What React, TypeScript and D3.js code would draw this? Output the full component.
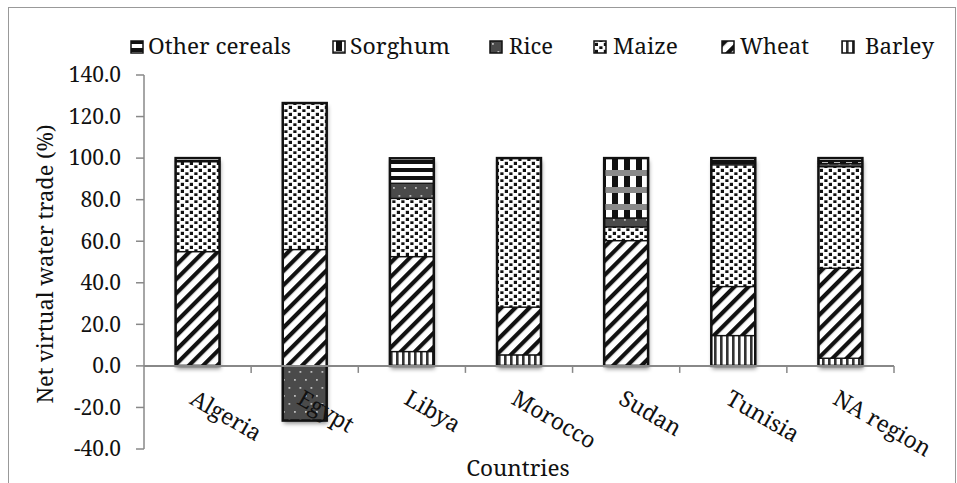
import React from "react";
import * as d3 from "d3";

const countries = ["Algeria", "Egypt", "Libya", "Morocco", "Sudan", "Tunisia", "NA region"];
const barley = [0, 0, 6.9, 5.3, 0, 14.6, 3.7];
const wheat = [55, 56, 45.7, 23, 60.3, 23.6, 43.3];
const maize = [43.3, 70.5, 28, 71.7, 6.6, 58.6, 48.9];
const rice = [0, -26.3, 7.3, 0, 4.3, 0, 1.5];
const sorghum = [0, 0, 0, 0, 28.8, 0, 1.0];
const otherCereals = [1.7, 0, 12, 0, 0, 3.2, 1.6];
const yTicks = [-40, -20, 0, 20, 40, 60, 80, 100, 120, 140];

const keys = ["Barley", "Wheat", "Maize", "Rice", "Sorghum", "Other cereals"];
const seriesArrays: Record<string, number[]> = {
  Barley: barley,
  Wheat: wheat,
  Maize: maize,
  Rice: rice,
  Sorghum: sorghum,
  "Other cereals": otherCereals,
};
const patternId: Record<string, string> = {
  Barley: "p-barley",
  Wheat: "p-wheat",
  Maize: "p-maize",
  Rice: "p-rice",
  Sorghum: "p-sorghum",
  "Other cereals": "p-other",
};
const legendOrder = ["Other cereals", "Sorghum", "Rice", "Maize", "Wheat", "Barley"];
const legendSquareX = [131, 333, 490, 594, 722, 842];
const legendTextX = [148, 350, 509, 613, 740, 865];
const legendTextW = [143, 100, 44, 65, 69, 69];

const FONT = "'Noto Serif', 'DejaVu Serif', serif";

export default function App() {
  const x = d3
    .scaleBand<string>()
    .domain(countries)
    .range([144, 894])
    .paddingInner(0.59)
    .paddingOuter(0.295);
  const y = d3.scaleLinear().domain([-40, 140]).range([449, 75]);

  const rows = countries.map((c, i) => {
    const r: any = { country: c };
    keys.forEach((k) => (r[k] = seriesArrays[k][i]));
    return r;
  });
  const stacked = d3
    .stack<any>()
    .keys(keys)
    .offset(d3.stackOffsetDiverging)(rows);

  const y0 = y(0);

  return (
    <svg
      width={957}
      height={483}
      style={{ position: "absolute", left: 0, top: 0, background: "#fff" }}
      fontFamily={FONT}
    >
      <defs>
        <pattern id="p-barley" width={6} height={6} patternUnits="userSpaceOnUse">
          <rect width={6} height={6} fill="#fff" />
          <rect x={0} width={2.6} height={6} fill="#333" />
        </pattern>
        <pattern
          id="p-wheat"
          width={10}
          height={10}
          patternUnits="userSpaceOnUse"
          patternTransform="rotate(45)"
        >
          <rect width={10} height={10} fill="#fff" />
          <rect x={0} width={4.2} height={10} fill="#111" />
        </pattern>
        <pattern id="p-maize" width={9} height={7} patternUnits="userSpaceOnUse">
          <rect width={9} height={7} fill="#fff" />
          <rect x={0.8} y={0.8} width={3.2} height={3.2} fill="#111" />
          <rect x={5.3} y={4.3} width={3.2} height={3.2} fill="#111" />
        </pattern>
        <pattern id="p-rice" width={11} height={16} patternUnits="userSpaceOnUse">
          <rect width={11} height={16} fill="#4a4a4a" />
          <rect x={2.5} y={3} width={1.8} height={1.8} fill="#bbb" />
          <rect x={8} y={11} width={1.8} height={1.8} fill="#bbb" />
        </pattern>
        <pattern id="p-sorghum" width={12} height={17} patternUnits="userSpaceOnUse">
          <rect width={12} height={17} fill="#fff" />
          <rect y={0} width={12} height={6} fill="#8a8a8a" />
          <rect x={0} y={6} width={6} height={11} fill="#111" />
        </pattern>
        <pattern id="p-other" width={6} height={8} patternUnits="userSpaceOnUse">
          <rect width={6} height={8} fill="#fff" />
          <rect y={0} width={6} height={4} fill="#111" />
        </pattern>
        <filter id="shadow" x="-20%" y="-20%" width="150%" height="150%">
          <feDropShadow dx={1} dy={3} stdDeviation={2} floodColor="#000" floodOpacity={0.45} />
        </filter>
      </defs>

      {/* outer frame */}
      <rect x={8.5} y={7.5} width={947} height={490} fill="none" stroke="#999" strokeWidth={1} />

      {/* legend */}
      {legendOrder.map((k, i) => (
        <g key={k}>
          <rect
            x={legendSquareX[i]}
            y={41}
            width={12}
            height={12}
            fill={`url(#${patternId[k]})`}
            stroke="#111"
            strokeWidth={1.5}
          />
          <text
            x={legendTextX[i]}
            y={54}
            fontSize={22}
            fill="#111"
            textLength={legendTextW[i]}
            lengthAdjust="spacingAndGlyphs"
          >
            {k}
          </text>
        </g>
      ))}

      {/* bars */}
      {countries.map((c, ci) => {
        const bx = x(c)!;
        const bw = x.bandwidth();
        const segs = stacked
          .map((s) => ({ key: s.key, v0: s[ci][0], v1: s[ci][1] }))
          .filter((d) => d.v1 - d.v0 !== 0);
        const top = d3.max(segs, (d) => d.v1) ?? 0;
        const bot = d3.min(segs, (d) => d.v0) ?? 0;
        return (
          <g key={c}>
            <rect
              x={bx}
              y={y(top)}
              width={bw}
              height={y(bot) - y(top)}
              fill="#fff"
              filter="url(#shadow)"
            />
            {segs.map((d) => (
              <rect
                key={d.key}
                x={bx}
                y={y(d.v1)}
                width={bw}
                height={y(d.v0) - y(d.v1)}
                fill={`url(#${patternId[d.key]})`}
                stroke="#111"
                strokeWidth={1.3}
              />
            ))}
            <rect
              x={bx}
              y={y(top)}
              width={bw}
              height={y(bot) - y(top)}
              fill="none"
              stroke="#111"
              strokeWidth={2.5}
            />
          </g>
        );
      })}

      {/* y axis */}
      <line x1={144} x2={144} y1={y(140)} y2={y(-40)} stroke="#888" strokeWidth={1.5} />
      {yTicks.map((t) => (
        <g key={t}>
          <line x1={136} x2={144} y1={y(t)} y2={y(t)} stroke="#888" strokeWidth={1.5} />
          <text x={121} y={y(t)} dy="0.35em" textAnchor="end" fontSize={21} fill="#111">
            {t.toFixed(1)}
          </text>
        </g>
      ))}

      {/* x axis */}
      <line x1={144} x2={894} y1={y0} y2={y0} stroke="#888" strokeWidth={2} />
      {countries.map((c, i) =>
        i === 0 ? null : (
          <line
            key={c}
            x1={x(c)! - (x.step() * x.paddingInner()) / 2}
            x2={x(c)! - (x.step() * x.paddingInner()) / 2}
            y1={y0}
            y2={y0 + 7}
            stroke="#888"
            strokeWidth={1.5}
          />
        )
      )}
      <line x1={894} x2={894} y1={y0} y2={y0 + 7} stroke="#888" strokeWidth={1.5} />
      {countries.map((c) => {
        const cx = x(c)! + x.bandwidth() / 2;
        return (
          <text
            key={c}
            transform={`translate(${cx - 9},${403}) rotate(30)`}
            fontSize={22.5}
            fill="#111"
          >
            {c}
          </text>
        );
      })}

      {/* axis titles */}
      <text x={518} y={476} textAnchor="middle" fontSize={22.5} fill="#111">
        Countries
      </text>
      <text
        transform={`translate(53,264) rotate(-90)`}
        textAnchor="middle"
        fontSize={21.8}
        fill="#111"
      >
        Net virtual water trade (%)
      </text>
    </svg>
  );
}
